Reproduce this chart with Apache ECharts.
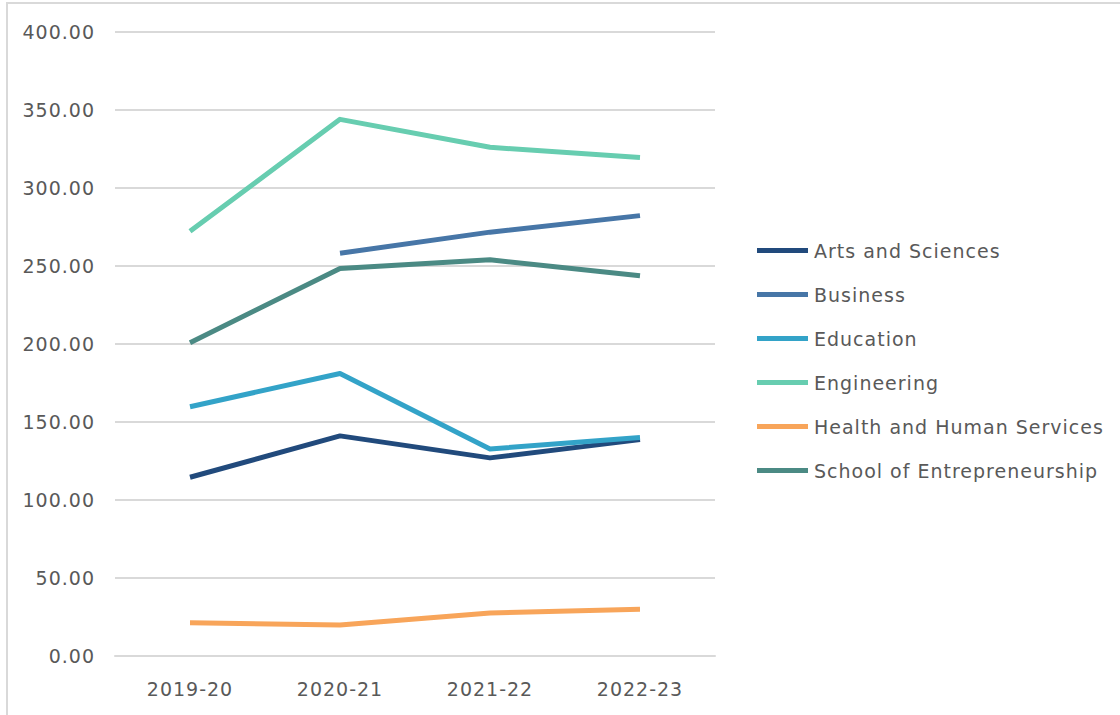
<!DOCTYPE html>
<html>
<head>
<meta charset="utf-8">
<script src="https://cdn.jsdelivr.net/npm/echarts@6/dist/echarts.min.js"></script>
<style>
  html, body { margin: 0; padding: 0; background: #ffffff; }
  #chart { width: 1120px; height: 715px; }
  /* slightly tracked-out lettering for all chart text */
  #chart text { letter-spacing: 1px; }
</style>
</head>
<body>
<div id="chart"></div>
<script>
// Academic years on the category axis
const years = ['2019-20', '2020-21', '2021-22', '2022-23'];

// One value per year for each college (null = no data that year)
const artsAndSciences = [114.6, 141.1, 127.0, 138.7];
const business = [null, 258.2, 271.7, 282.3];
const education = [159.8, 181.1, 132.7, 140.1];
const engineering = [272.2, 344.0, 326.1, 319.5];
const healthHumanServices = [21.3, 19.9, 27.6, 30.0];
const entrepreneurship = [200.8, 248.4, 254.0, 243.7];

const seriesNames = [
  'Arts and Sciences', 'Business', 'Education',
  'Engineering', 'Health and Human Services', 'School of Entrepreneurship'
];
const seriesValues = [
  artsAndSciences, business, education,
  engineering, healthHumanServices, entrepreneurship
];
const seriesColors = ['#214a7c', '#4776a7', '#33a3c8', '#67cdb0', '#f8a55a', '#4b8a84'];

const fontFamily = '"DejaVu Sans", sans-serif';
const textColor = '#595959';

const chart = echarts.init(document.getElementById('chart'), null, { renderer: 'svg' });

chart.setOption({
  backgroundColor: '#ffffff',
  animation: false,
  // chart-area frame, open past the bottom and right edges of the page
  graphic: [{
    type: 'rect',
    shape: { x: 7, y: 3, width: 1130, height: 730 },
    style: { fill: 'none', stroke: '#d9d9d9', lineWidth: 2 },
    silent: true
  }],
  grid: { left: 115, right: 405, top: 32, bottom: 59, containLabel: false },
  legend: {
    orient: 'vertical',
    left: 757,
    top: 240,
    padding: 0,
    icon: 'rect',
    itemWidth: 51,
    itemHeight: 5,
    itemGap: 23,
    textStyle: {
      fontFamily: fontFamily, fontSize: 19, color: textColor,
      lineHeight: 21, padding: [0, 0, 0, 1]
    },
    data: seriesNames
  },
  xAxis: {
    type: 'category',
    data: years,
    boundaryGap: true,
    axisLine: { show: true, lineStyle: { color: '#d9d9d9', width: 2 } },
    axisTick: { show: false },
    axisLabel: { color: textColor, fontFamily: fontFamily, fontSize: 19, margin: 23 }
  },
  yAxis: {
    type: 'value',
    min: 0,
    max: 400,
    interval: 50,
    axisLine: { show: false },
    axisTick: { show: false },
    splitLine: { lineStyle: { color: '#d9d9d9', width: 2 } },
    axisLabel: {
      color: textColor, fontFamily: fontFamily, fontSize: 19, margin: 20,
      formatter: v => v.toFixed(2)
    }
  },
  series: seriesNames.map((name, i) => ({
    name: name,
    type: 'line',
    data: seriesValues[i],
    showSymbol: false,
    symbol: 'none',
    connectNulls: false,
    lineStyle: { color: seriesColors[i], width: 5, cap: 'butt', join: 'round' },
    itemStyle: { color: seriesColors[i] },
    emphasis: { disabled: true }
  }))
});
</script>
</body>
</html>
